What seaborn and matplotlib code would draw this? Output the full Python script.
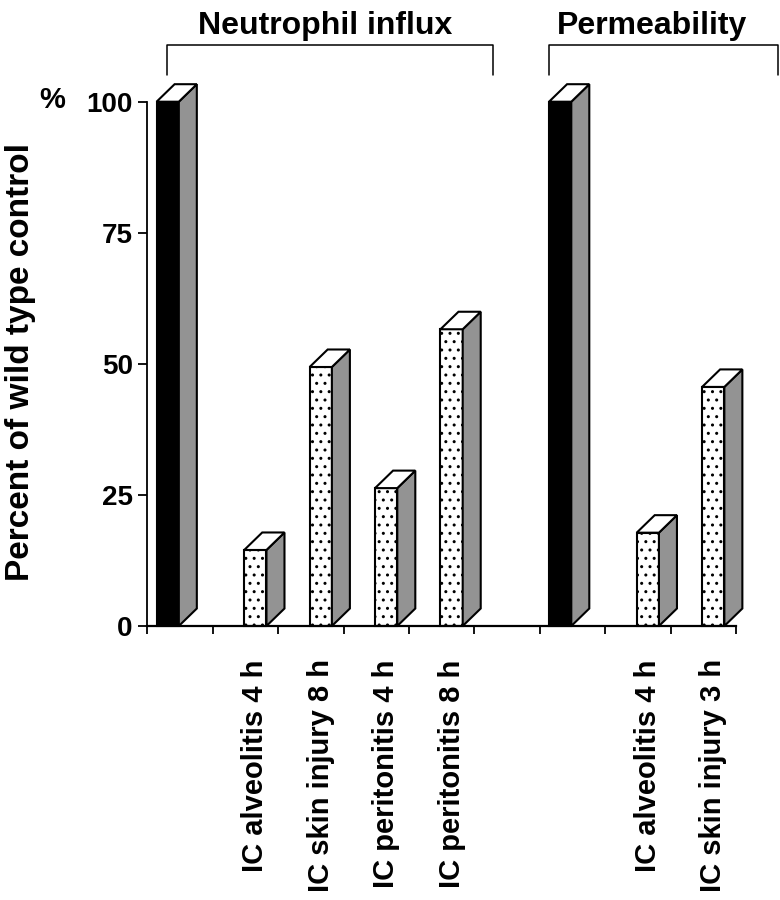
import numpy as np
import pandas as pd
import seaborn as sns
import matplotlib.pyplot as plt
from matplotlib.patches import Polygon
from matplotlib.lines import Line2D

# chart data
slots = ['ni_wt', 'ni_alv4', 'ni_skin8', 'ni_per4', 'ni_per8', 'gap', 'pm_wt', 'pm_alv4', 'pm_skin3']
groups = ['wild type', 'deficient', 'deficient', 'deficient', 'deficient', None, 'wild type', 'deficient', 'deficient']
values = [100, 14.5, 49.4, 26.3, 56.6, None, 100, 17.8, 45.6]
labels = ['', 'IC alveolitis 4 h', 'IC skin injury 8 h', 'IC peritonitis 4 h', 'IC peritonitis 8 h',
          '', '', 'IC alveolitis 4 h', 'IC skin injury 3 h']
yticks = [0, 25, 50, 75, 100]
panels = ['Neutrophil influx', 'Permeability']

rows = [(s, g, v) for s, g, v in zip(slots, groups, values) if v is not None]
df = pd.DataFrame(rows, columns=['slot', 'group', 'value'])

sns.set_style('ticks', {'axes.edgecolor': 'black', 'text.color': 'black',
                        'xtick.color': 'black', 'ytick.color': 'black',
                        'axes.labelcolor': 'black'})
plt.rcParams['font.family'] = ['Liberation Sans', 'DejaVu Sans']
plt.rcParams['hatch.linewidth'] = 1.0

W, H = 780, 900
fig = plt.figure(figsize=(7.8, 9), dpi=100)
ax = fig.add_axes([147.3 / W, 1 - 626 / H, (736 - 147.3) / W, (626 - 101.7) / H])

sns.barplot(data=df, x='slot', y='value', hue='group', order=slots,
            hue_order=['wild type', 'deficient'], palette=['black', 'white'],
            saturation=1, width=0.68, dodge=True, errorbar=None,
            edgecolor='black', linewidth=1.5, legend=False, ax=ax)

ax.set_xlim(-0.482, 8.518)
ax.set_ylim(0, 100)

# pseudo-3D depth of each bar
px_x = 65.4      # pixels per slot
px_y = 5.243     # pixels per percent
dx = 18 / px_x
dy = 17.5 / px_y
centers = []
for p in list(ax.patches):
    h = p.get_height()
    if not np.isfinite(h) or h <= 0:
        continue
    x0, w = p.get_x(), p.get_width()
    p.set_clip_on(False)
    if p.get_facecolor()[0] > 0.5:
        p.set_hatch('..')
        centers.append(x0 + w / 2)
    side = Polygon([(x0 + w, 0), (x0 + w + dx, dy), (x0 + w + dx, h + dy), (x0 + w, h)],
                   closed=True, facecolor='#939393', edgecolor='black', linewidth=1.5,
                   clip_on=False, zorder=3)
    top = Polygon([(x0, h), (x0 + dx, h + dy), (x0 + w + dx, h + dy), (x0 + w, h)],
                  closed=True, facecolor='white', edgecolor='black', linewidth=1.5,
                  clip_on=False, zorder=3)
    ax.add_patch(side)
    ax.add_patch(top)

sns.despine(ax=ax)
ax.spines['left'].set_linewidth(1.3)
ax.spines['bottom'].set_linewidth(1.6)

ax.set_xticks(np.arange(10) - 0.482)
ax.set_xticklabels([])
ax.tick_params(axis='x', which='major', direction='out', length=6, width=1.3)
shown = [l for l in labels if l]
ax.set_xticks(sorted(centers), minor=True)
ax.set_xticklabels(shown, minor=True, rotation=90, fontsize=21, fontweight='bold')
ax.tick_params(axis='x', which='minor', length=0, pad=24)

ax.set_yticks(yticks)
ax.set_yticklabels([str(t) for t in yticks])
ax.tick_params(axis='y', direction='out', length=6.5, width=1.3, pad=4, labelsize=20)
for t in ax.get_yticklabels():
    t.set_fontweight('bold')
ax.set_xlabel('')
ax.set_ylabel('')

fig.text(21 / W, 1 - 362 / H, 'Percent of wild type control', rotation=90,
         ha='center', va='center', fontsize=24, fontweight='bold')
fig.text(52 / W, 1 - 100 / H, '%', ha='center', va='center', fontsize=21, fontweight='bold')

# group brackets
for name, (xa, xb), xc in zip(panels, [(166.5, 492.5), (549, 778)], [325, 652]):
    fig.add_artist(Line2D([xa / W, xa / W, xb / W, xb / W],
                          [1 - 75 / H, 1 - 45 / H, 1 - 45 / H, 1 - 75 / H],
                          color='black', linewidth=1.1))
    fig.text(xc / W, 1 - 34 / H, name, ha='center', va='baseline',
             fontsize=23, fontweight='bold')

fig.savefig('out.png', dpi=100)
